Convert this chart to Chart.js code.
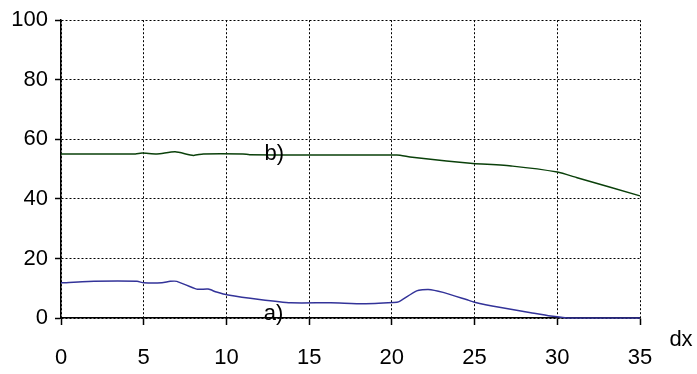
<!DOCTYPE html>
<html>
<head>
<meta charset="utf-8">
<script src="https://cdn.jsdelivr.net/npm/chart.js@4.4.0/dist/chart.umd.min.js"></script>
<style>
  html, body { margin: 0; padding: 0; background: #fff; }
  #wrap { width: 697px; height: 374px; }
</style>
</head>
<body>
<div id="wrap"><canvas id="dxChart"></canvas></div>
<script>
// curve a) (blue, lower)
const xA = [0, 2, 4.6, 5, 6.1, 6.6, 7, 8.2, 8.9, 9.4, 10.1, 12, 13.9, 16.3, 18.3, 20.1, 20.4, 21.5, 22.2, 23.1, 24.5, 25, 26.5, 28.4, 29.6, 30.8, 35];
const yA = [11.8, 12.3, 12.3, 11.8, 11.8, 12.3, 12.3, 9.7, 9.7, 8.7, 7.7, 6.2, 5.1, 5.1, 4.8, 5.2, 5.4, 9.1, 9.6, 8.6, 6.2, 5.3, 3.6, 1.8, 0.7, 0, 0];
// curve b) (green, upper)
const xB = [0, 4.5, 4.9, 5.8, 6.9, 8.0, 8.6, 11, 11.4, 14.5, 20.3, 21.1, 23.3, 24.9, 27.3, 30, 31.2, 35];
const yB = [55.1, 55.1, 55.4, 55.1, 55.8, 54.6, 55.1, 55.1, 54.8, 54.7, 54.7, 54.1, 52.7, 51.9, 51, 49, 47.1, 41];
// labels on the curves
const curveLabels = [
  { text: 'b)', x: 12.9, y: 55 },
  { text: 'a)', x: 12.85, y: 1.3 }
];
const xTitle = 'dx';

const FONT = "'Liberation Sans', Arial, sans-serif";

function pts(xs, ys){
  var out = [];
  for (let i = 0; i < xs.length; ++i) out.push({x: xs[i], y: ys[i]});
  return out;
}

const textPlugin = {
  id: 'texts',
  afterDraw: function(chart){
    const ctx = chart.ctx;
    const xs = chart.scales.x, ys = chart.scales.y;
    ctx.save();
    ctx.fillStyle = '#000';
    ctx.font = '22px ' + FONT;
    ctx.textAlign = 'center';
    ctx.textBaseline = 'middle';
    curveLabels.forEach(function(l){
      ctx.fillText(l.text, xs.getPixelForValue(l.x), ys.getPixelForValue(l.y));
    });
    ctx.fillText(xTitle, chart.chartArea.right + 41, chart.chartArea.bottom + 22);
    ctx.restore();
  }
};

const data = {
  datasets: [
    {
      label: 'a)',
      data: pts(xA, yA),
      borderColor: '#333399',
      borderWidth: 1.5,
      tension: 0.2,
      pointRadius: 0,
      clip: 4,
      fill: false
    },
    {
      label: 'b)',
      data: pts(xB, yB),
      borderColor: '#0a400a',
      borderWidth: 1.5,
      tension: 0.2,
      pointRadius: 0,
      clip: 4,
      fill: false
    }
  ]
};

const options = {
  responsive: false,
  animation: false,
  events: [],
  layout: { padding: { left: 0, right: 57, top: 18, bottom: 0 } },
  plugins: { legend: { display: false }, tooltip: { enabled: false } },
  scales: {
    x: {
      type: 'linear',
      min: 0, max: 35,
      afterFit: function(s){ s.height = 56; },
      ticks: { stepSize: 5, color: '#000', padding: 20, font: { family: FONT, size: 22 } },
      grid: { color: '#000', lineWidth: 1, tickLength: 7, tickColor: '#000', tickWidth: 1.5 },
      border: { display: true, color: '#000', width: 1.5, dash: [2, 2] }
    },
    y: {
      type: 'linear',
      min: 0, max: 100,
      afterFit: function(s){ s.width = 61; },
      ticks: { stepSize: 20, color: '#000', padding: 7, font: { family: FONT, size: 22 } },
      grid: { color: '#000', lineWidth: 1, tickLength: 6, tickColor: '#000', tickWidth: 1.5 },
      border: { display: true, color: '#000', width: 1.5, dash: [2, 2] }
    }
  }
};

const canvas = document.getElementById('dxChart');
canvas.width = 697;
canvas.height = 374;
new Chart(canvas, { type: 'line', data: data, options: options, plugins: [textPlugin] });
</script>
</body>
</html>
